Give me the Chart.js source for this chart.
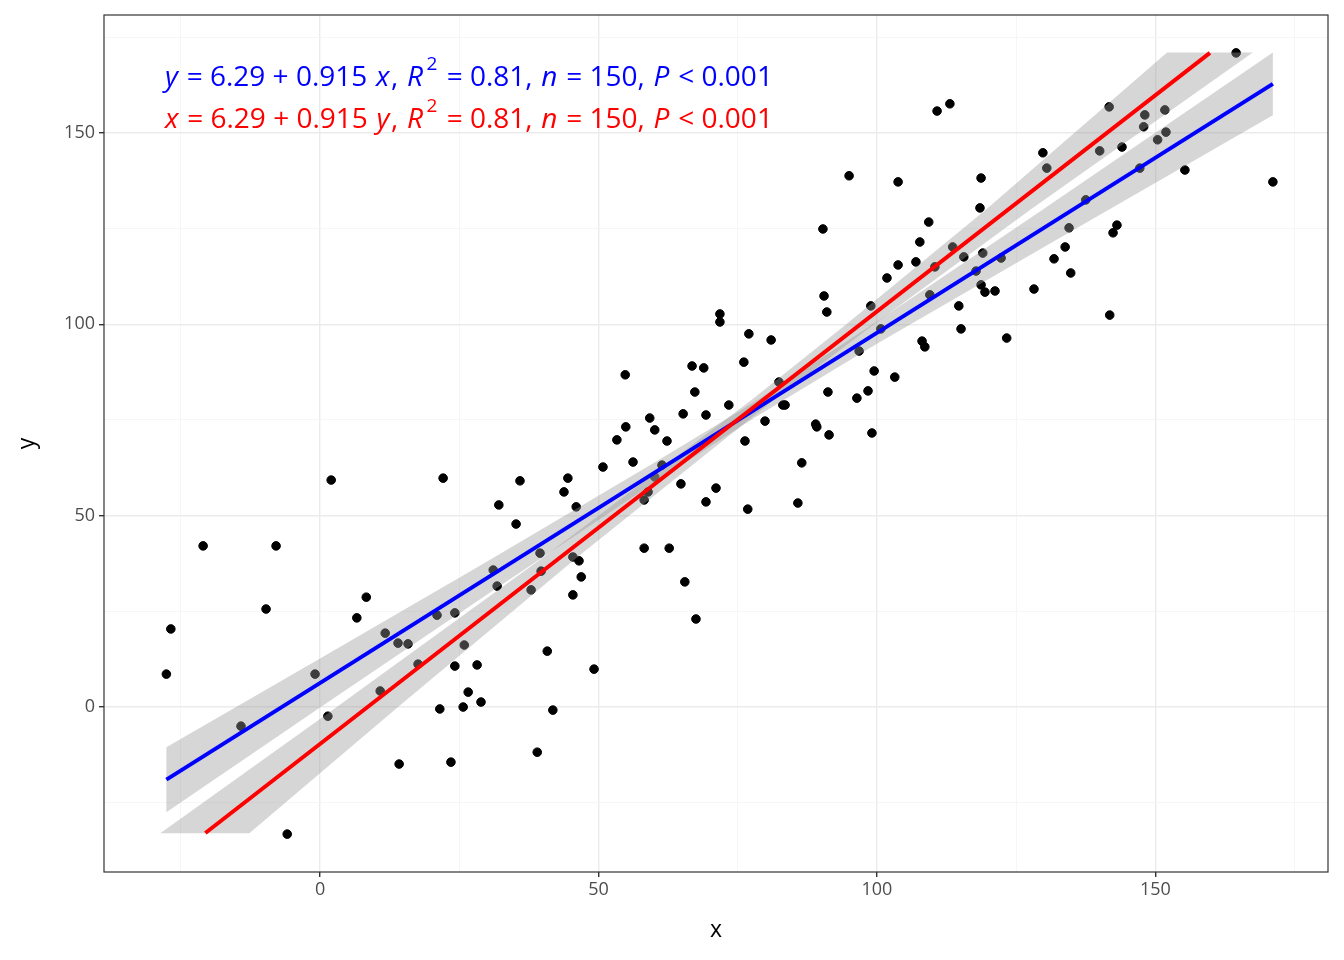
<!DOCTYPE html>
<html>
<head>
<meta charset="utf-8">
<script src="https://cdn.jsdelivr.net/npm/chart.js@4"></script>
<style>
  html, body { margin: 0; padding: 0; background: #fff; }
  #wrap { width: 1344px; height: 960px; }
</style>
</head>
<body>
<div id="wrap"><canvas id="c" width="1344" height="960"></canvas></div>
<script>
// scatter points
var ptsX = [-27.6,-26.8,-21.0,-14.2,-9.7,-7.9,-5.9,-0.9,1.4,2.0,6.6,8.3,10.8,11.7,14.0,14.2,15.8,17.6,21.0,21.5,22.1,23.5,24.2,24.2,25.7,25.9,26.6,28.2,28.9,31.1,31.8,32.1,35.2,35.9,37.9,39.0,39.5,39.7,40.8,41.8,43.8,44.5,45.4,45.4,46.0,46.5,46.9,49.2,50.8,53.3,54.8,54.9,56.2,58.2,58.2,58.9,59.2,60.1,60.1,61.4,62.3,62.7,64.8,65.2,65.5,66.8,67.3,67.5,68.9,69.3,69.3,71.1,71.8,71.8,73.4,76.1,76.3,76.8,77.0,79.9,81.0,82.4,83.1,83.5,85.8,86.5,89.0,89.2,90.3,90.5,91.0,91.2,91.4,95.0,96.4,96.8,98.4,98.9,99.1,99.5,100.7,101.8,103.2,103.8,103.8,107.0,107.7,108.1,108.6,109.3,109.5,110.4,110.8,113.1,113.6,114.7,115.1,115.6,117.8,118.5,118.7,118.7,119.0,119.4,121.2,122.3,123.3,128.2,129.8,130.5,131.8,133.8,134.5,134.8,137.5,140.0,141.7,141.8,142.4,143.1,144.0,147.2,147.9,148.1,150.4,151.7,151.9,155.3,164.5,171.1]
var ptsY = [8.6,20.4,42.1,-5.0,25.6,42.1,-33.2,8.6,-2.4,59.3,23.3,28.7,4.2,19.3,16.7,-14.9,16.5,11.2,24.0,-0.5,59.8,-14.4,24.6,10.7,0,16.2,3.9,11.0,1.3,35.8,31.6,52.8,47.8,59.1,30.6,-11.8,40.2,35.5,14.6,-0.8,56.2,59.8,29.3,39.2,52.3,38.2,34.0,9.9,62.7,69.8,86.8,73.2,64.0,54.1,41.5,56.2,75.5,72.4,60.1,63.2,69.5,41.5,58.3,76.6,32.7,89.1,82.3,23.0,88.6,76.3,53.6,57.2,102.7,100.6,78.9,90.1,69.5,51.7,97.5,74.7,95.9,84.9,78.9,78.9,53.3,63.8,73.9,73.2,124.9,107.4,103.2,82.3,71.1,138.8,80.7,93.0,82.6,104.8,71.6,87.8,98.8,112.1,86.2,115.5,137.2,116.3,121.5,95.6,94.1,126.7,107.7,115.0,155.7,157.6,120.2,104.8,98.8,117.6,113.9,130.4,138.2,110.3,118.6,108.4,108.7,117.3,96.4,109.2,144.8,140.8,117.1,120.2,125.2,113.4,132.5,145.3,156.8,102.4,123.9,125.9,146.3,140.8,151.6,154.7,148.2,156.0,150.2,140.3,170.9,137.2]

// fitted lines (end points)
var blueLineX = [-27.6, 171.1]
var blueLineY = [-18.96, 162.8]
var redLineX = [-20.6, 159.8]
var redLineY = [-32.9, 170.9]

// confidence bands
var blueBandX = [-27.6, 0, 30, 60, 78, 100, 130, 171.1]
var blueBandHi = [-10.5, 12.7, 38.0, 63.8, 79.7, 100.7, 130.2, 171.0]
var blueBandLo = [-27.5, -0.1, 29.4, 58.6, 75.6, 94.9, 120.2, 154.6]
var redBandY = [-33, 0, 40, 80, 100, 130, 171]
var redBandXLo = [-28.7, 3.0, 40.9, 77.3, 94.5, 119.6, 152.1]
var redBandXHi = [-12.7, 14.0, 46.9, 81.3, 99.5, 127.6, 167.5]

var tickVals = [-25, 0, 25, 50, 75, 100, 125, 150, 175]

function pairs(xs, ys) {
  return xs.map(function (v, i) { return { x: v, y: ys[i] } })
}

var bandPlugin = {
  id: 'bands',
  afterDatasetDraw: function (chart, args) {
    if (args.index !== 0) return
    var xs = chart.scales.x, ys = chart.scales.y, ctx = chart.ctx, a = chart.chartArea
    ctx.save()
    ctx.beginPath()
    ctx.rect(a.left, a.top, a.right - a.left, a.bottom - a.top)
    ctx.clip()
    ctx.fillStyle = 'rgba(153,153,153,0.4)'
    ctx.beginPath()
    blueBandX.forEach(function (v, i) {
      var px = xs.getPixelForValue(v), py = ys.getPixelForValue(blueBandHi[i])
      if (i === 0) ctx.moveTo(px, py); else ctx.lineTo(px, py)
    })
    for (var i = blueBandX.length - 1; i >= 0; i--) {
      ctx.lineTo(xs.getPixelForValue(blueBandX[i]), ys.getPixelForValue(blueBandLo[i]))
    }
    ctx.closePath(); ctx.fill()
    ctx.beginPath()
    redBandY.forEach(function (v, i) {
      var px = xs.getPixelForValue(redBandXLo[i]), py = ys.getPixelForValue(v)
      if (i === 0) ctx.moveTo(px, py); else ctx.lineTo(px, py)
    })
    for (var j = redBandY.length - 1; j >= 0; j--) {
      ctx.lineTo(xs.getPixelForValue(redBandXHi[j]), ys.getPixelForValue(redBandY[j]))
    }
    ctx.closePath(); ctx.fill()
    ctx.restore()
  },
  afterDraw: function (chart) {
    var ctx = chart.ctx, a = chart.chartArea
    ctx.save()
    ctx.strokeStyle = '#333333'
    ctx.lineWidth = 1.2
    ctx.strokeRect(a.left, a.top, a.right - a.left, a.bottom - a.top)
    // equations
    var lines = [
      { color: '#0000ff', y: 78, parts: [['y', 1], [' = 6.29 + 0.915 ', 0], ['x', 1], [', ', 0], ['R', 1], ['SUP2', 0], [' = 0.81, ', 0], ['n', 1], [' = 150, ', 0], ['P', 1], [' < 0.001', 0]] },
      { color: '#ff0000', y: 120, parts: [['x', 1], [' = 6.29 + 0.915 ', 0], ['y', 1], [', ', 0], ['R', 1], ['SUP2', 0], [' = 0.81, ', 0], ['n', 1], [' = 150, ', 0], ['P', 1], [' < 0.001', 0]] }
    ]
    ctx.textBaseline = 'middle'
    lines.forEach(function (ln) {
      var x = 165
      ctx.fillStyle = ln.color
      ln.parts.forEach(function (p) {
        if (p[0] === 'SUP2') {
          ctx.font = '19px "Open Sans"'
          ctx.fillText('2', x + 2, ln.y - 13)
          x += ctx.measureText('2').width + 4
          return
        }
        ctx.font = (p[1] ? 'italic ' : '') + '28px "Open Sans"'
        ctx.fillText(p[0], x, ln.y)
        x += ctx.measureText(p[0]).width + 1.5
      })
    })
    ctx.restore()
  }
}

function gridColor(c) {
  var v = c.tick ? c.tick.value : 0
  return v % 50 === 0 ? '#ebebeb' : '#f4f4f4'
}
function gridWidth(c) {
  var v = c.tick ? c.tick.value : 0
  return v % 50 === 0 ? 1.4 : 0.8
}
function tickColor(c) {
  var v = c.tick ? c.tick.value : 0
  return v % 50 === 0 ? '#333333' : 'rgba(0,0,0,0)'
}
function tickLabel(v) { return v % 50 === 0 ? v : '' }
function setTicks(scale) { scale.ticks = tickVals.map(function (v) { return { value: v } }) }

new Chart(document.getElementById('c'), {
  type: 'scatter',
  plugins: [bandPlugin],
  data: {
    datasets: [
      { data: pairs(ptsX, ptsY), backgroundColor: '#000', borderColor: '#000', pointRadius: 4.3, order: 2 },
      { data: pairs(redLineX, redLineY), showLine: true, borderColor: '#ff0000', borderWidth: 4, pointRadius: 0, order: 1 },
      { data: pairs(blueLineX, blueLineY), showLine: true, borderColor: '#0000ff', borderWidth: 4, pointRadius: 0, order: 1 }
    ]
  },
  options: {
    responsive: false,
    animation: false,
    layout: { padding: { top: 15, right: 16, left: 0, bottom: 0 } },
    plugins: { legend: { display: false }, tooltip: { enabled: false } },
    scales: {
      x: {
        type: 'linear', min: -38.8, max: 181,
        afterBuildTicks: setTicks,
        afterFit: function (s) { s.height = 88 },
        grid: { color: gridColor, lineWidth: gridWidth, tickColor: tickColor, tickLength: 5, drawTicks: true },
        border: { display: false },
        ticks: { callback: tickLabel, color: '#4d4d4d', font: { family: 'Open Sans', size: 18 }, maxRotation: 0, autoSkip: false, padding: 2 },
        title: { display: true, text: 'x', color: '#000', font: { family: 'Open Sans', size: 23 }, padding: { top: 0, bottom: 16 } }
      },
      y: {
        type: 'linear', min: -43.1, max: 180.8,
        afterBuildTicks: setTicks,
        afterFit: function (s) { s.width = 104 },
        grid: { color: gridColor, lineWidth: gridWidth, tickColor: tickColor, tickLength: 5, drawTicks: true },
        border: { display: false },
        ticks: { callback: tickLabel, color: '#4d4d4d', font: { family: 'Open Sans', size: 18 }, autoSkip: false, padding: 4 },
        title: { display: true, text: 'y', color: '#000', font: { family: 'Open Sans', size: 23 }, padding: { top: 14, bottom: 2 } }
      }
    }
  }
})
</script>
</body>
</html>
